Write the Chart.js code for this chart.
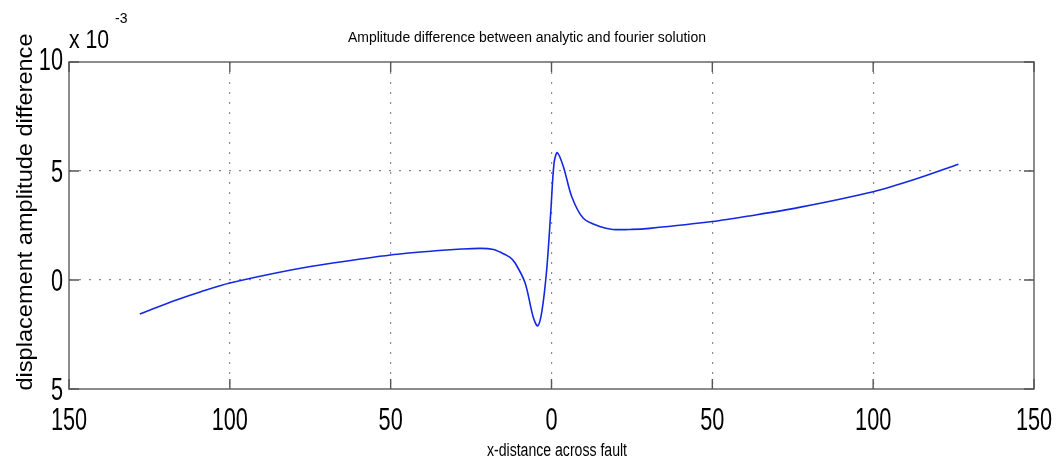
<!DOCTYPE html>
<html lang="en">

<head>
    <meta charset="UTF-8" />
    <title>Amplitude difference</title>
    <script src="https://cdn.jsdelivr.net/npm/chart.js"></script>
    <style>
        html, body { margin: 0; padding: 0; background: #fff; }
        #wrap { width: 1060px; height: 463px; position: relative; }
    </style>
</head>

<body>
    <div id="wrap">
        <canvas id="ampChart"></canvas>
    </div>

    <script>
        // curve, y in units of 1e-3
        const xDistance = [-128, -116.6, -109, -100, -81, -68, -50, -35, -28, -22, -18, -16, -13, -11.3, -8.2, -5.7, -4.3, -3.0, -1.5, -0.25, 0.8, 1.8, 3.7, 6.3, 9.9, 15, 19, 25, 30.5, 50, 62, 77, 100, 113, 126.5];
        const ampDiff = [-1.56, -0.92, -0.54, -0.14, 0.46, 0.78, 1.15, 1.35, 1.42, 1.45, 1.40, 1.28, 1.05, 0.78, -0.14, -1.7, -2.11, -1.45, 0.46, 3.07, 5.37, 5.84, 5.2, 3.82, 2.83, 2.45, 2.32, 2.32, 2.37, 2.68, 2.95, 3.33, 4.05, 4.62, 5.31];

        // tick values and the labels as printed (no minus signs in the original)
        const xTicks = [-150, -100, -50, 0, 50, 100, 150];
        const xTickLabels = ['150', '100', '50', '0', '50', '100', '150'];
        const yTicks = [-5, 0, 5, 10];
        const yTickLabels = ['5', '0', '5', '10'];

        const titleText = 'Amplitude difference between analytic and fourier solution';
        const xTitle = 'x-distance across fault';
        const yTitle = 'displacement amplitude difference';

        const FONT = '"Liberation Sans", Arial, sans-serif';

        // draw text squeezed horizontally (the original uses a narrow font)
        function narrowText(ctx, text, x, y, size, sx, align) {
            ctx.save();
            ctx.font = size + 'px ' + FONT;
            ctx.textAlign = align || 'center';
            ctx.textBaseline = 'alphabetic';
            ctx.translate(x, y);
            ctx.scale(sx, 1);
            ctx.fillText(text, 0, 0);
            ctx.restore();
        }

        function fitText(ctx, text, x, y, size, width) {
            ctx.save();
            ctx.font = size + 'px ' + FONT;
            const w = ctx.measureText(text).width;
            ctx.restore();
            narrowText(ctx, text, x, y, size, width / w, 'center');
        }

        const frame = {
            id: 'frame',
            afterDraw(chart) {
                const ctx = chart.ctx;
                const a = chart.chartArea;
                const xs = chart.scales.x, ys = chart.scales.y;

                // box
                ctx.save();
                ctx.strokeStyle = '#707070';
                ctx.lineWidth = 1.6;
                ctx.strokeRect(a.left, a.top, a.right - a.left, a.bottom - a.top);

                // inward ticks on all sides
                ctx.strokeStyle = '#555';
                ctx.lineWidth = 1.4;
                ctx.beginPath();
                xTicks.forEach(v => {
                    const px = xs.getPixelForValue(v);
                    ctx.moveTo(px, a.bottom); ctx.lineTo(px, a.bottom - 10);
                    ctx.moveTo(px, a.top); ctx.lineTo(px, a.top + 10);
                });
                yTicks.forEach(v => {
                    const py = ys.getPixelForValue(v);
                    ctx.moveTo(a.left, py); ctx.lineTo(a.left + 10, py);
                    ctx.moveTo(a.right, py); ctx.lineTo(a.right - 10, py);
                });
                ctx.stroke();
                ctx.restore();

                ctx.save();
                ctx.fillStyle = '#000';
                xTicks.forEach((v, i) => {
                    narrowText(ctx, xTickLabels[i], xs.getPixelForValue(v), a.bottom + 41, 31, 0.7, 'center');
                });
                yTicks.forEach((v, i) => {
                    const off = v === 10 ? 8 : 11;
                    narrowText(ctx, yTickLabels[i], a.left - 6, ys.getPixelForValue(v) + off, 31, 0.7, 'right');
                });

                // exponent
                narrowText(ctx, 'x 10', a.left, 48, 25, 0.85, 'left');
                narrowText(ctx, '-3', a.left + 46, 23, 14, 1, 'left');

                fitText(ctx, titleText, 527, 42, 14, 358);
                fitText(ctx, xTitle, 557, 456, 18, 140);

                ctx.save();
                ctx.translate(32, 212);
                ctx.rotate(-Math.PI / 2);
                fitText(ctx, yTitle, 0, 0, 22, 357);
                ctx.restore();
                ctx.restore();
            }
        };

        const points = xDistance.map((x, i) => ({ x: x, y: ampDiff[i] }));

        new Chart(document.getElementById('ampChart'), {
            type: 'line',
            data: {
                datasets: [{
                    data: points,
                    borderColor: 'rgb(20, 40, 225)',
                    borderWidth: 1.6,
                    pointRadius: 0,
                    fill: false,
                    tension: 0.3
                }]
            },
            options: {
                responsive: true,
                maintainAspectRatio: false,
                animation: false,
                layout: { padding: { left: 69, right: 26, top: 62, bottom: 74 } },
                plugins: {
                    legend: { display: false },
                    tooltip: { enabled: false },
                    title: { display: false }
                },
                scales: {
                    x: {
                        type: 'linear',
                        min: -150,
                        max: 150,
                        ticks: { stepSize: 50, display: false },
                        grid: {
                            drawTicks: false,
                            lineWidth: 1.2,
                            color: c => (c.tick && Math.abs(c.tick.value) === 150) ? 'rgba(0,0,0,0)' : '#8a8a8a'
                        },
                        border: { display: false, dash: [2, 8] }
                    },
                    y: {
                        min: -5,
                        max: 10,
                        ticks: { stepSize: 5, display: false },
                        grid: {
                            drawTicks: false,
                            lineWidth: 1.2,
                            color: c => (c.tick && (c.tick.value === -5 || c.tick.value === 10)) ? 'rgba(0,0,0,0)' : '#8a8a8a'
                        },
                        border: { display: false, dash: [2, 8] }
                    }
                }
            },
            plugins: [frame]
        });
    </script>
</body>

</html>
